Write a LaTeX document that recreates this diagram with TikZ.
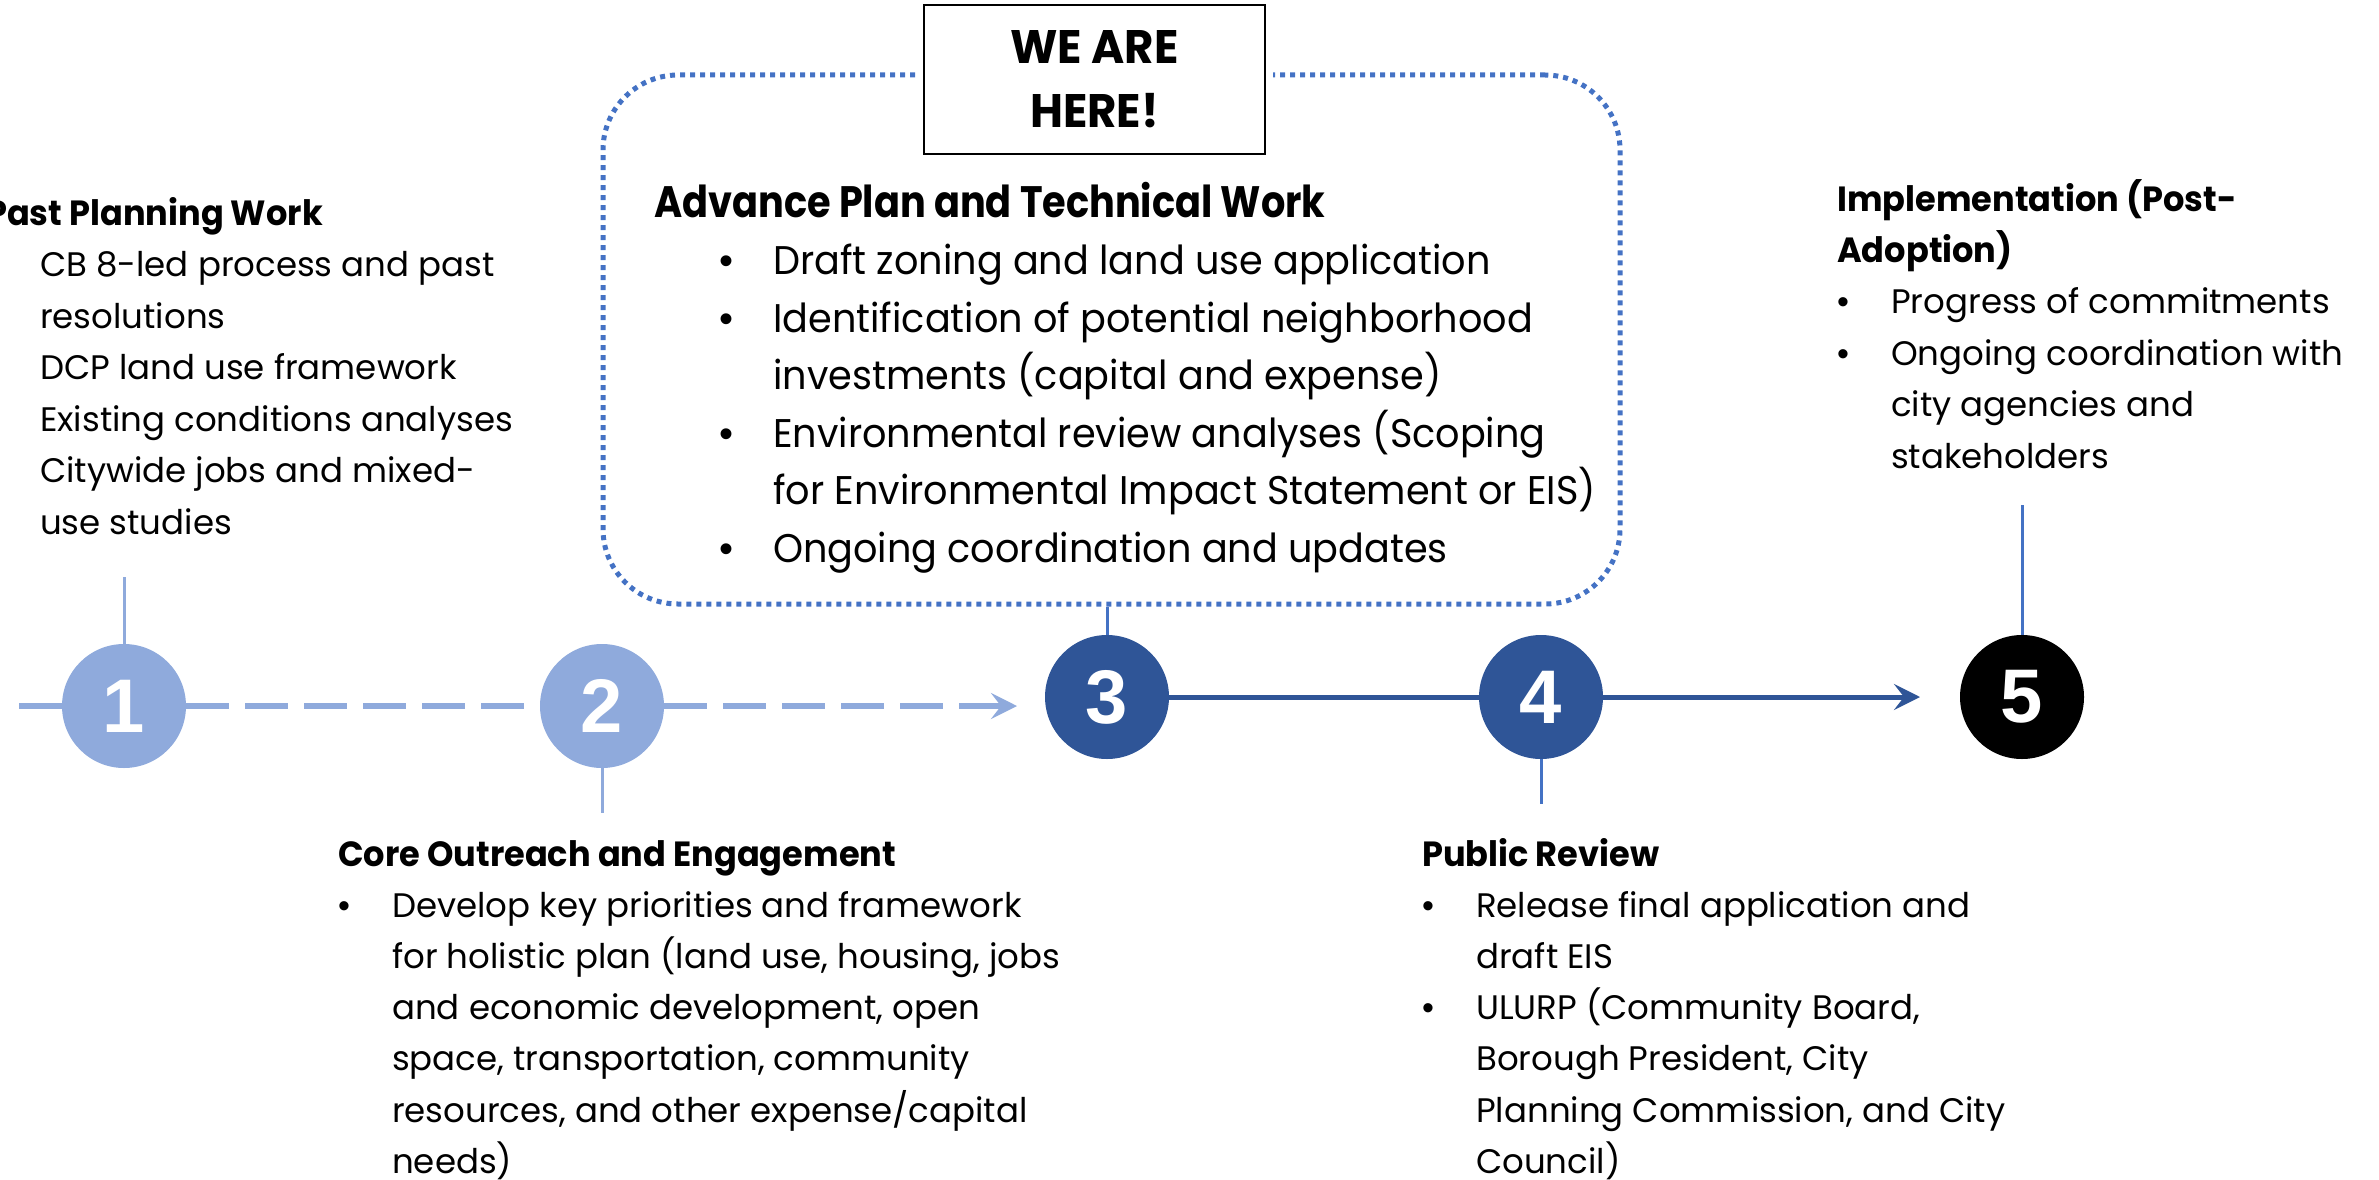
\documentclass[tikz,border=0pt]{standalone}
\usepackage{fontspec}
\setmainfont{Poppins}
\newfontfamily\numfont{Liberation Sans}
\newfontfamily\headfont[FakeStretch=0.96]{Poppins}
\newfontfamily\boxfont[FakeStretch=0.955]{Poppins}
\newfontfamily\boxheadfont[FakeStretch=0.87]{Poppins}
\usetikzlibrary{arrows.meta}

\definecolor{lightstep}{HTML}{8FAADC}
\definecolor{darkstep}{HTML}{2F5597}
\definecolor{midblue}{HTML}{4472C4}

% bullet mark, bulleted line and continuation line inside a \vtop text block
\newcommand{\dotmark}{{\numfont\textbullet}}
\newcommand{\bitem}[1]{\hbox{\makebox[54pt][l]{\dotmark}#1}}
\newcommand{\citem}[1]{\hbox{\hspace*{54pt}#1}}
\newcommand{\heading}[1]{\hbox{\headfont\bfseries\fontsize{35}{40}\selectfont #1}}
\newcommand{\boxitem}[1]{\hbox{\hspace*{65pt}\makebox[54pt][l]{\dotmark}#1}}
\newcommand{\boxcont}[1]{\hbox{\hspace*{119pt}#1}}

\tikzset{
  stepdot/.style={circle, inner sep=0pt, minimum size=124pt, text=white,
    font=\numfont\bfseries\fontsize{76}{76}\selectfont},
  laterstep/.style={stepdot, fill=darkstep},
  earlystep/.style={stepdot, fill=lightstep},
  stemlight/.style={draw=lightstep, line width=3pt},
  stemdark/.style={draw=midblue, line width=3pt},
  textblock/.style={anchor=base west, inner sep=0pt,
    font=\fontsize{34}{51}\selectfont},
  tip/.style={-{Stealth[length=26pt, width=26pt, inset=10pt]}},
}

\begin{document}
\begin{tikzpicture}[x=1pt, y=-1pt]
\useasboundingbox (0,0) rectangle (2379,1180);

% ---- dotted frame around the current phase ----
\node[draw=midblue, line width=5pt, dash pattern=on 5pt off 5pt,
      rounded corners=75pt, minimum width=1017pt, minimum height=529pt,
      inner sep=0pt] (advbox) at (1111.5,339.5) {};

\node[draw=black, line width=2.5pt, fill=white,
      preaction={draw=white, line width=16pt},
      minimum width=341pt, minimum height=149pt, inner sep=0pt,
      align=center, font=\headfont\bfseries\fontsize{47}{64}\selectfont] (here)
      at (1094.5,79.5) {WE ARE\\HERE!};

% ---- step markers ----
\node[earlystep] (s1) at (124,706) {1};
\node[earlystep] (s2) at (602,706) {2};
\node[laterstep] (s3) at (1107,697) {3};
\node[laterstep] (s4) at (1541,697) {4};
\node[stepdot, fill=black] (s5) at (2022,697) {5};

% ---- timeline ----
\coordinate (lineorigin) at (14,706);
\coordinate (dashend) at (1017,706);
\coordinate (solidend) at (1920,697);
\begin{scope}[line width=5.5pt, dash pattern=on 43pt off 16pt]
  \draw[lightstep] (s1.west) -- (lineorigin);
  \draw[lightstep] (s1.east) -- (s2.west);
  \draw[lightstep, tip] (s2.east) -- (dashend);
\end{scope}
\draw[darkstep, line width=5pt] (s3.east) -- (s4.west);
\draw[darkstep, line width=5pt, tip] (s4.east) -- (solidend);

% ---- stems to the text blocks ----
\coordinate (stem1) at (124,577);
\coordinate (stem2) at (602,813);
\coordinate (stem4) at (1541,804);
\coordinate (stem5) at (2022,505);
\draw[stemlight] (stem1) -- (s1.north);
\draw[stemlight] (s2.south) -- (stem2);
\draw[stemdark] (s3.north) -- (s3.north |- advbox.south);
\draw[stemdark] (s4.south) -- (stem4);
\draw[stemdark] (stem5) -- (s5.north);

% ---- text blocks ----
\node[textblock] (pastwork) at (-14,225) {\vtop{\baselineskip=51.5pt
  \heading{Past Planning Work}
  \citem{CB 8-led process and past}
  \citem{resolutions}
  \citem{DCP land use framework}
  \citem{Existing conditions analyses}
  \citem{Citywide jobs and mixed-}
  \citem{use studies}}};

\node[textblock] (outreach) at (338,866) {\vtop{\baselineskip=51.2pt
  \heading{Core Outreach and Engagement}
  \bitem{Develop key priorities and framework}
  \citem{for holistic plan (land use, housing, jobs}
  \citem{and economic development, open}
  \citem{space, transportation, community}
  \citem{resources, and other expense/capital}
  \citem{needs)}}};

\node[textblock, font=\boxfont\fontsize{40}{57}\selectfont] (advance) at (654,217)
 {\vtop{\baselineskip=57.5pt
  \hbox{\boxheadfont\bfseries\fontsize{44}{50}\selectfont Advance Plan and Technical Work}
  \boxitem{Draft zoning and land use application}
  \boxitem{Identification of potential neighborhood}
  \boxcont{investments (capital and expense)}
  \boxitem{Environmental review analyses (Scoping}
  \boxcont{for Environmental Impact Statement or EIS)}
  \boxitem{Ongoing coordination and updates}}};

\node[textblock] (review) at (1422,866) {\vtop{\baselineskip=51.2pt
  \heading{Public Review}
  \bitem{Release final application and}
  \citem{draft EIS}
  \bitem{ULURP (Community Board,}
  \citem{Borough President, City}
  \citem{Planning Commission, and City}
  \citem{Council)}}};

\node[textblock] (implement) at (1837,211) {\vtop{\baselineskip=51.4pt
  \heading{Implementation (Post-}
  \heading{Adoption)}
  \bitem{Progress of commitments}
  \bitem{Ongoing coordination with}
  \citem{city agencies and}
  \citem{stakeholders}}};

\end{tikzpicture}
\end{document}
